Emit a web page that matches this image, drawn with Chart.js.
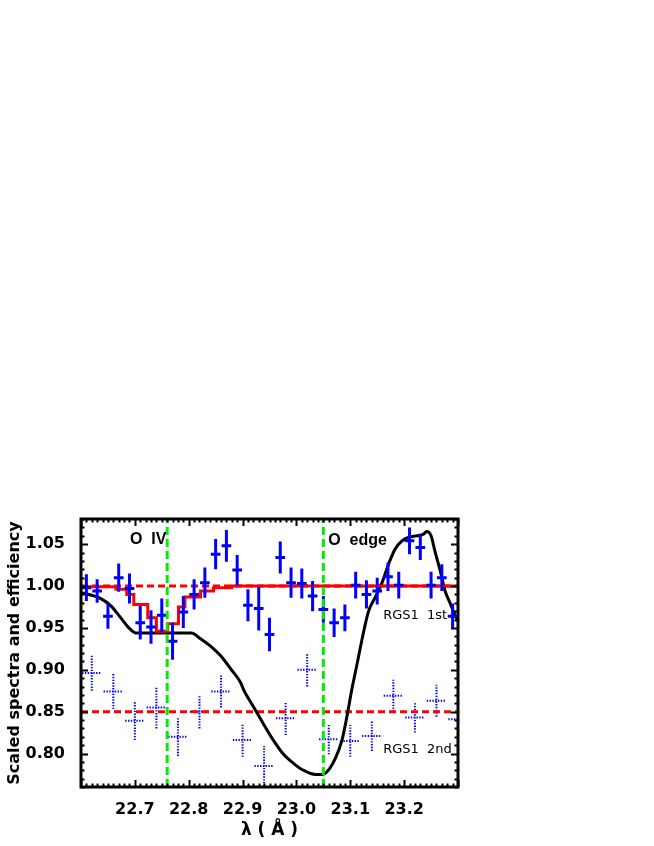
<!DOCTYPE html>
<html>
<head>
<meta charset="utf-8">
<script src="https://cdn.jsdelivr.net/npm/chart.js@4.4.1/dist/chart.umd.min.js"></script>
<style>
  html, body { margin: 0; padding: 0; background: #fff; }
  canvas { display: block; }
</style>
</head>
<body>
<canvas id="chart" width="654" height="846"></canvas>
<script>
// RGS1 1st order, scaled spectrum
const firstX = [22.61, 22.63, 22.65, 22.67, 22.69, 22.71, 22.73, 22.75, 22.77, 22.79, 22.81, 22.83,
  22.85, 22.87, 22.89, 22.91, 22.93, 22.95, 22.97, 22.99, 23.01, 23.03, 23.05, 23.07, 23.09, 23.11,
  23.13, 23.15, 23.17, 23.19, 23.21, 23.23, 23.25, 23.27, 23.29];
const firstY = [0.998, 0.994, 0.964, 1.010, 0.997, 0.956, 0.951, 0.965, 0.934, 0.969, 0.990, 1.004,
  1.038, 1.048, 1.019, 0.977, 0.973, 0.942, 1.034, 1.004, 1.003, 0.988, 0.972, 0.956, 0.962, 1.001,
  0.990, 0.994, 1.011, 1.001, 1.054, 1.046, 1.001, 1.010, 0.964];
const firstErr = [0.016, 0.014, 0.015, 0.017, 0.018, 0.020, 0.020, 0.020, 0.022, 0.019, 0.018, 0.018,
  0.018, 0.019, 0.018, 0.019, 0.026, 0.020, 0.019, 0.018, 0.018, 0.018, 0.016, 0.017, 0.016, 0.016,
  0.017, 0.016, 0.017, 0.016, 0.016, 0.015, 0.016, 0.016, 0.015];

// RGS1 2nd order, scaled spectrum (shifted down)
const secondX = [22.62, 22.66, 22.70, 22.74, 22.78, 22.82, 22.86, 22.90, 22.94, 22.98, 23.02, 23.06,
  23.10, 23.14, 23.18, 23.22, 23.26, 23.30];
const secondY = [0.896, 0.874, 0.839, 0.855, 0.820, 0.850, 0.874, 0.816, 0.785, 0.842, 0.900, 0.817,
  0.815, 0.821, 0.869, 0.843, 0.863, 0.841];
const secondErr = [0.021, 0.021, 0.023, 0.025, 0.023, 0.020, 0.019, 0.020, 0.024, 0.020, 0.020, 0.018,
  0.019, 0.018, 0.019, 0.018, 0.019, 0.018];

// O IV model (red histogram)
const modelX = [22.600, 22.665, 22.685, 22.698, 22.724, 22.740, 22.761, 22.781, 22.793, 22.822, 22.846, 22.880, 23.300];
const modelY = [0.999, 0.996, 0.990, 0.978, 0.962, 0.946, 0.955, 0.975, 0.987, 0.994, 0.998, 1.000, 1.000];

// efficiency curve (black)
const effX = [22.600, 22.620, 22.637, 22.656, 22.674, 22.689, 22.702, 22.805, 22.822, 22.841, 22.859,
  22.878, 22.896, 22.902, 22.921, 22.939, 22.958, 22.976, 22.995, 23.013, 23.035, 23.048, 23.055,
  23.072, 23.085, 23.094, 23.103, 23.112, 23.125, 23.134, 23.146, 23.159, 23.171, 23.183, 23.196,
  23.208, 23.224, 23.236, 23.242, 23.250, 23.257, 23.267, 23.276, 23.285, 23.294, 23.300];
const effY = [0.992, 0.989, 0.985, 0.976, 0.962, 0.950, 0.944, 0.944, 0.937, 0.928, 0.917,
  0.901, 0.885, 0.876, 0.855, 0.835, 0.815, 0.799, 0.788, 0.780, 0.775, 0.775, 0.777,
  0.794, 0.817, 0.845, 0.877, 0.905, 0.946, 0.970, 0.986, 1.004, 1.026, 1.044, 1.054,
  1.058, 1.060, 1.062, 1.065, 1.060, 1.042, 1.018, 0.994, 0.980, 0.966, 0.958];

const refLevels = [1.00, 0.85];
const edgeLines = [22.76, 23.05];
const xTickLabels = [22.7, 22.8, 22.9, 23.0, 23.1, 23.2];
const yTickLabels = [0.80, 0.85, 0.90, 0.95, 1.00, 1.05];
const xRange = [22.6, 23.3];
const yRange = [0.76, 1.08];

const notes = [
  { text: 'O  IV', x: 22.691, y: 1.0556, font: 'bold 16px "Liberation Sans"' },
  { text: 'O  edge', x: 23.059, y: 1.054, font: 'bold 16px "Liberation Sans"' },
  { text: 'RGS1  1st', x: 23.161, y: 0.965, font: '13px "DejaVu Sans"' },
  { text: 'RGS1  2nd', x: 23.161, y: 0.805, font: '13px "DejaVu Sans"' }
];

const pts = (xs, ys) => xs.map((x, i) => ({ x: x, y: ys[i] }));

// error bars for the spectra, drawn right after their own dataset
const errorBars = {
  id: 'errorBars',
  afterDatasetDraw(chart, args) {
    const ds = chart.data.datasets[args.index];
    if (!ds.errY) return;
    const xs = chart.scales.x, ys = chart.scales.y, a = chart.chartArea, ctx = chart.ctx;
    ctx.save();
    ctx.beginPath();
    ctx.rect(a.left, a.top, a.right - a.left, a.bottom - a.top);
    ctx.clip();
    ctx.strokeStyle = ds.barColor;
    ctx.lineWidth = ds.barWidth;
    ctx.setLineDash(ds.barDash);
    ctx.lineCap = 'butt';
    ds.data.forEach((p, i) => {
      const px = xs.getPixelForValue(p.x), py = ys.getPixelForValue(p.y);
      ctx.beginPath();
      ctx.moveTo(px, ys.getPixelForValue(p.y - ds.errY[i]));
      ctx.lineTo(px, ys.getPixelForValue(p.y + ds.errY[i]));
      ctx.moveTo(xs.getPixelForValue(p.x - ds.errX), py);
      ctx.lineTo(xs.getPixelForValue(p.x + ds.errX), py);
      ctx.stroke();
    });
    ctx.restore();
  }
};

// IDL style box with inward ticks, plus the text labels
const frame = {
  id: 'frame',
  afterDraw(chart) {
    const xs = chart.scales.x, ys = chart.scales.y, a = chart.chartArea, ctx = chart.ctx;
    ctx.save();
    ctx.fillStyle = '#000';
    ctx.textBaseline = 'middle';
    ctx.textAlign = 'left';
    notes.forEach(n => {
      ctx.font = n.font;
      ctx.fillText(n.text, xs.getPixelForValue(n.x), ys.getPixelForValue(n.y));
    });
    ctx.strokeStyle = '#000';
    ctx.lineWidth = 2;
    ctx.beginPath();
    for (let k = 0; k <= 70; k++) {
      const v = xRange[0] + k * 0.01;
      const px = Math.round(xs.getPixelForValue(v)) + 0.5;
      const len = (k % 10 === 0) ? 7 : 3.5;
      ctx.moveTo(px, a.bottom); ctx.lineTo(px, a.bottom - len);
      ctx.moveTo(px, a.top); ctx.lineTo(px, a.top + len);
    }
    for (let k = 0; k <= 32; k++) {
      const v = yRange[0] + k * 0.01;
      const py = Math.round(ys.getPixelForValue(v)) + 0.5;
      const len = (k % 5 === 4) ? 7 : 3.5;
      ctx.moveTo(a.left, py); ctx.lineTo(a.left + len, py);
      ctx.moveTo(a.right, py); ctx.lineTo(a.right - len, py);
    }
    ctx.stroke();
    ctx.lineWidth = 3;
    ctx.strokeRect(a.left, a.top, a.right - a.left, a.bottom - a.top);
    ctx.restore();
  }
};

const datasets = [];
edgeLines.forEach(x => datasets.push({
  type: 'line', data: [{ x: x, y: yRange[0] }, { x: x, y: yRange[1] }],
  borderColor: '#00ee00', borderWidth: 3, borderDash: [8, 4], pointRadius: 0, order: 1
}));
datasets.push({
  type: 'scatter', label: 'RGS1 1st', data: pts(firstX, firstY), pointRadius: 0,
  errY: firstErr, errX: 0.009, barColor: '#0000ff', barWidth: 3, barDash: [], order: 2
});
datasets.push({
  type: 'line', label: 'model', data: pts(modelX, modelY), stepped: true,
  borderColor: '#ff0000', borderWidth: 3, pointRadius: 0, order: 3
});
datasets.push({
  type: 'line', label: 'efficiency', data: pts(effX, effY), cubicInterpolationMode: 'monotone',
  borderColor: '#000000', borderWidth: 3, pointRadius: 0, order: 4
});
refLevels.forEach(y => datasets.push({
  type: 'line', data: [{ x: xRange[0], y: y }, { x: xRange[1], y: y }],
  borderColor: '#ff0000', borderWidth: 3, borderDash: [7, 4], pointRadius: 0, order: 5
}));
datasets.push({
  type: 'scatter', label: 'RGS1 2nd', data: pts(secondX, secondY), pointRadius: 0,
  errY: secondErr, errX: 0.018, barColor: '#0000ff', barWidth: 2, barDash: [1.4, 1.4], order: 6
});

const tickFont = { family: 'DejaVu Sans', size: 16, weight: 'bold' };

new Chart(document.getElementById('chart'), {
  data: { datasets: datasets },
  options: {
    responsive: false,
    devicePixelRatio: 1,
    animation: false,
    layout: { padding: { left: 0, right: 196, top: 519, bottom: 0 } },
    plugins: { legend: { display: false }, tooltip: { enabled: false } },
    scales: {
      x: {
        type: 'linear', min: xRange[0], max: xRange[1],
        afterBuildTicks: s => { s.ticks = xTickLabels.map(v => ({ value: v })); },
        afterFit: s => { s.height = 59; },
        ticks: { callback: v => v.toFixed(1), font: tickFont, color: '#000', padding: 5, maxRotation: 0, autoSkip: false },
        grid: { display: false },
        border: { display: false },
        title: { display: true, text: 'λ ( Å )', color: '#000', font: { family: 'DejaVu Sans', size: 17, weight: 'bold' }, padding: { top: 0, bottom: 5 } }
      },
      y: {
        type: 'linear', min: yRange[0], max: yRange[1],
        afterBuildTicks: s => { s.ticks = yTickLabels.map(v => ({ value: v })); },
        afterFit: s => { s.width = 81; },
        ticks: { callback: v => v.toFixed(2), font: tickFont, color: '#000', padding: 8, autoSkip: false },
        grid: { display: false },
        border: { display: false },
        title: { display: true, text: 'Scaled spectra and efficiency', color: '#000', font: { family: 'DejaVu Sans', size: 16, weight: 'bold' }, padding: { top: 5, bottom: 0 } }
      }
    }
  },
  plugins: [errorBars, frame]
});
</script>
</body>
</html>
